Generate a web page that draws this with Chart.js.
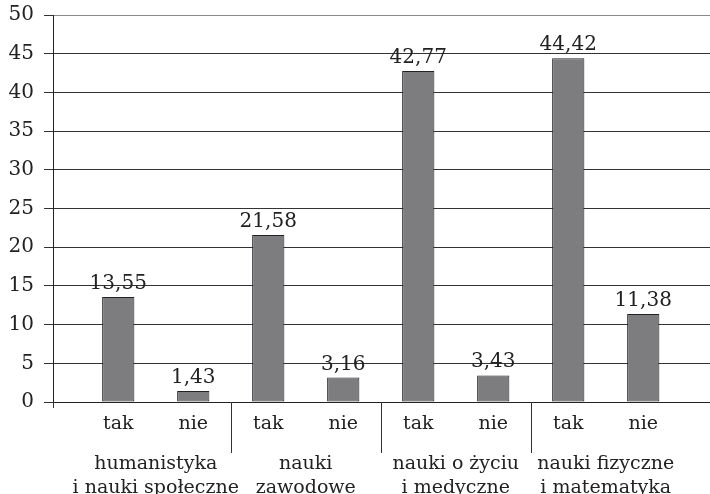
<!DOCTYPE html>
<html>
<head>
<meta charset="utf-8">
<script src="https://cdn.jsdelivr.net/npm/chart.js@4.4.0/dist/chart.umd.min.js"></script>
<style>
	body { margin: 0; background: #fff; }
	#wrap { width: 710px; height: 494px; }
</style>
</head>
<body>
<div id="wrap"><canvas id="chart"></canvas></div>
<script>
// answers per bar (tak / nie for each field)
const answerLabels = ["tak", "nie", "tak", "nie", "tak", "nie", "tak", "nie"];
const shares = [13.55, 1.43, 21.58, 3.16, 42.77, 3.43, 44.42, 11.38];
const groupLabels = [
	["humanistyka", "i nauki społeczne"],
	["nauki", "zawodowe"],
	["nauki o życiu", "i medyczne"],
	["nauki fizyczne", "i matematyka"],
];
const yTicks = [0, 5, 10, 15, 20, 25, 30, 35, 40, 45, 50];

const fontFamily = "'DejaVu Serif', serif";
const textColor = "#222";

const formatValue = function(v) {
	return v.toFixed(2).replace(".", ",");
};

// value labels over the bars
const valueLabels = {
	id: "valueLabels",
	afterDatasetsDraw: function(chart) {
		const ctx = chart.ctx;
		const meta = chart.getDatasetMeta(0);
		ctx.save();
		ctx.font = "20px " + fontFamily;
		ctx.fillStyle = textColor;
		ctx.textAlign = "center";
		ctx.textBaseline = "alphabetic";
		meta.data.forEach(function(bar, i) {
			ctx.fillText(formatValue(shares[i]), bar.x, bar.y - 8);
		});
		ctx.restore();
	}
};

// group names under the tak/nie labels, with separators
const groupAxis = {
	id: "groupAxis",
	afterDraw: function(chart) {
		const ctx = chart.ctx;
		const x = chart.scales.x;
		const area = chart.chartArea;
		ctx.save();
		ctx.strokeStyle = "#333";
		ctx.lineWidth = 1;
		ctx.beginPath();
		ctx.moveTo(Math.round(area.left) + 0.5, area.bottom);
		ctx.lineTo(Math.round(area.left) + 0.5, area.bottom + 6);
		for (let g = 1; g < groupLabels.length; g++) {
			const px = Math.round(x.getPixelForValue(g * 2 - 0.5)) + 0.5;
			ctx.moveTo(px, area.bottom);
			ctx.lineTo(px, area.bottom + 51);
		}
		ctx.stroke();

		ctx.font = "19px " + fontFamily;
		ctx.fillStyle = textColor;
		ctx.textAlign = "center";
		ctx.textBaseline = "alphabetic";
		groupLabels.forEach(function(lines, g) {
			const cx = x.getPixelForValue(g * 2 + 0.5);
			lines.forEach(function(line, j) {
				ctx.fillText(line, cx, area.bottom + 67 + j * 24);
			});
		});
		ctx.restore();
	}
};

new Chart(document.getElementById("chart"), {
	type: "bar",
	data: {
		datasets: [{
			data: shares.map(function(v, i) { return {x: i, y: v}; }),
			backgroundColor: "#7d7d80",
			borderColor: "#222",
			borderWidth: 1,
			borderSkipped: false,
			barPercentage: 0.43,
			categoryPercentage: 1,
		}]
	},
	options: {
		responsive: true,
		maintainAspectRatio: false,
		animation: false,
		layout: {padding: {top: 15, right: 0, left: 0, bottom: 0}},
		plugins: {
			legend: {display: false},
			tooltip: {enabled: false},
		},
		scales: {
			x: {
				type: "linear",
				offset: false,
				min: -0.87,
				max: 7.89,
				afterBuildTicks: function(scale) {
					scale.ticks = answerLabels.map(function(_, i) { return {value: i}; });
				},
				afterFit: function(scale) {
					scale.height = 92;
					scale.paddingLeft = 0;
					scale.paddingRight = 0;
				},
				grid: {display: false, drawTicks: false},
				border: {display: true, color: "#222", width: 1},
				ticks: {
					autoSkip: false,
					maxRotation: 0,
					padding: 11,
					color: textColor,
					font: {family: fontFamily, size: 19},
					callback: function(value, index) { return answerLabels[index]; },
				},
			},
			y: {
				min: 0,
				max: 50,
				afterBuildTicks: function(scale) {
					scale.ticks = yTicks.map(function(v) { return {value: v}; });
				},
				afterFit: function(scale) {
					scale.width = 53;
					scale.paddingTop = 0;
					scale.paddingBottom = 0;
				},
				grid: {
					color: function(c) { return c.tick && c.tick.value === 50 ? "#888" : "#333"; },
					tickColor: "#333",
					tickLength: 9,
				},
				border: {display: true, color: "#222", width: 1},
				ticks: {
					padding: 10,
					color: textColor,
					font: {family: fontFamily, size: 20},
				},
			},
		},
	},
	plugins: [valueLabels, groupAxis],
});
</script>
</body>
</html>
